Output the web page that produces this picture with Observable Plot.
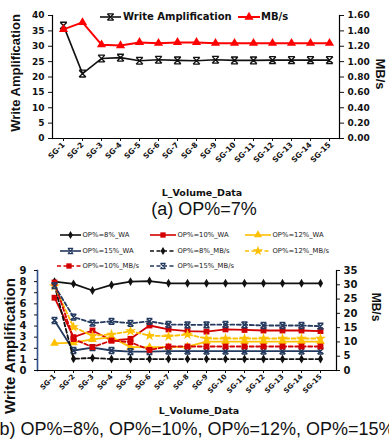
<!DOCTYPE html>
<html><head><meta charset="utf-8">
<script src="https://cdn.jsdelivr.net/npm/d3@7"></script>
<script src="https://cdn.jsdelivr.net/npm/@observablehq/plot@0.6"></script>
<style>
html,body{margin:0;padding:0;background:#fff;}
body{width:389px;height:441px;overflow:hidden;position:relative;font-family:"DejaVu Sans",sans-serif;}
.abs{position:absolute;white-space:nowrap;line-height:1;}
.c{transform:translate(-50%,-50%);}
.rotL{transform:translate(-50%,-50%) rotate(-90deg);}
.rotR{transform:translate(-50%,-50%) rotate(90deg);}
.ttl{font-family:"Liberation Sans",Arial,sans-serif;font-weight:bold;color:#111;}
.xl{font-family:"DejaVu Sans",sans-serif;font-weight:bold;font-size:9.5px;color:#111;}
.cap{font-family:"Liberation Sans",Arial,sans-serif;font-size:18px;color:#111;}
.leg{display:flex;align-items:center;font-size:6.8px;color:#222;}
.legT{display:flex;align-items:center;font-size:10px;font-weight:bold;color:#111;}
svg.sw{display:block;overflow:visible;}
</style></head><body>
<div id="topChart" class="abs" style="left:0;top:0"></div>
<div id="botChart" class="abs" style="left:0;top:255px"></div>
<div id="overlay"></div>
<script>
// ---------- data ----------
const categories = ["SG-1","SG-2","SG-3","SG-4","SG-5","SG-6","SG-7","SG-8","SG-9","SG-10","SG-11","SG-12","SG-13","SG-14","SG-15"];
// (a) OP%=7%
const waOP7 = [36.7, 21.1, 26.0, 26.3, 25.3, 25.6, 25.4, 25.3, 25.6, 25.4, 25.4, 25.5, 25.5, 25.5, 25.5];
const mbOP7 = [1.42, 1.51, 1.22, 1.21, 1.25, 1.24, 1.25, 1.25, 1.24, 1.24, 1.24, 1.24, 1.24, 1.24, 1.24];
const leftTicksA = [0, 5, 10, 15, 20, 25, 30, 35, 40];
const rightTicksA = [0, 0.2, 0.4, 0.6, 0.8, 1.0, 1.2, 1.4, 1.6];
// (b) write amplification (left axis)
const waOP8  = [8.0, 7.8, 7.2, 7.7, 8.0, 8.05, 7.85, 7.85, 7.85, 7.85, 7.85, 7.85, 7.85, 7.85, 7.85];
const waOP10 = [6.55, 3.0, 3.6, 2.7, 2.85, 4.05, 3.7, 3.55, 3.5, 3.7, 3.65, 3.6, 3.6, 3.6, 3.55];
const waOP12 = [2.45, 2.5, 2.8, 3.0, 2.1, 2.1, 2.1, 2.15, 2.6, 2.6, 2.6, 2.6, 2.6, 2.6, 2.6];
const waOP15 = [4.5, 1.8, 2.05, 1.8, 1.7, 1.7, 1.75, 1.75, 1.75, 1.75, 1.75, 1.75, 1.75, 1.75, 1.75];
// (b) MB/s (right axis)
const mbOP8  = [30.0, 4.1, 4.4, 4.0, 4.0, 4.0, 4.0, 4.0, 4.0, 4.0, 4.0, 4.0, 4.0, 4.0, 4.0];
const mbOP10 = [30.8, 11.0, 8.2, 10.5, 9.9, 7.2, 8.4, 8.4, 8.4, 8.4, 8.4, 8.4, 8.4, 8.4, 8.4];
const mbOP12 = [29.5, 15.2, 12.2, 12.6, 13.8, 12.2, 12.0, 12.6, 11.2, 11.2, 11.2, 11.2, 11.2, 11.2, 11.2];
const mbOP15 = [29.7, 18.7, 16.6, 17.2, 16.5, 17.2, 16.1, 16.0, 16.0, 16.1, 16.0, 15.75, 15.75, 15.75, 15.5];
const leftTicksB = [0, 1, 2, 3, 4, 5, 6, 7, 8, 9];
const rightTicksB = [0, 5, 10, 15, 20, 25, 30, 35];

// ---------- styles ----------
const RED_A = "#ff0000", RED = "#d40000", GOLD = "#ffc000", NAVY = "#243a5e", LEFTAX = "#2e4f8a";
const hourglass = {
  draw(ctx, size) {
    const s = Math.sqrt(size / Math.PI);
    ctx.moveTo(-s, -s); ctx.lineTo(s, s);
    ctx.moveTo(s, -s); ctx.lineTo(-s, s);
    ctx.moveTo(-s, -s); ctx.lineTo(s, -s);
    ctx.moveTo(-s, s); ctx.lineTo(s, s);
  }
};
const tickFont = {fontFamily: "'DejaVu Sans', sans-serif", fontWeight: "bold", color: "#111", background: "white", overflow: "visible"};

// ---------- chart (a) ----------
const yA2 = d3.scaleLinear([0, 1.6], [0, 40]);
const rowsA = categories.map((c, i) => ({c, wa: waOP7[i], mb: mbOP7[i]}));
const plotA = Plot.plot({
  width: 389, height: 200, marginLeft: 52, marginRight: 50, marginTop: 15, marginBottom: 62,
  style: {...tickFont, fontSize: "9px"},
  x: {type: "point", domain: categories, padding: 0.5, label: null},
  y: {domain: [0, 40], label: null},
  marks: [
    Plot.frame({anchor: "left", stroke: "#000", strokeWidth: 1.2}),
    Plot.frame({anchor: "right", stroke: "#000", strokeWidth: 1.2}),
    Plot.frame({anchor: "bottom", stroke: "#000", strokeWidth: 1.2}),
    Plot.axisY(leftTicksA, {anchor: "left", tickSize: 4, tickPadding: 4, label: null, fontSize: 9}),
    Plot.axisY(rightTicksA, {anchor: "right", y: d => yA2(d), tickFormat: d => d.toFixed(2), tickSize: 4, tickPadding: 4, label: null, fontSize: 9}),
    Plot.axisX({tickRotate: -45, tickSize: 3, tickPadding: 2, label: null, fontSize: 7.5}),
    Plot.line(rowsA, {x: "c", y: "wa", stroke: "#111", strokeWidth: 1.6}),
    Plot.dot(rowsA, {x: "c", y: "wa", symbol: hourglass, r: 3.4, stroke: "#111", fill: "none", strokeWidth: 1.3}),
    Plot.line(rowsA, {x: "c", y: d => yA2(d.mb), stroke: RED_A, strokeWidth: 2}),
    Plot.dot(rowsA, {x: "c", y: d => yA2(d.mb), symbol: "triangle", r: 3.4, fill: RED_A, stroke: "none"})
  ]
});
document.getElementById("topChart").appendChild(plotA);

// ---------- chart (b) ----------
const yB2 = d3.scaleLinear([0, 35], [0, 9]);
const rowsB = categories.map((c, i) => ({c, w8: waOP8[i], w10: waOP10[i], w12: waOP12[i], w15: waOP15[i],
  m8: mbOP8[i], m10: mbOP10[i], m12: mbOP12[i], m15: mbOP15[i]}));
const DASH = "4,2.5";
const series = [
  {key: "w8",  right: false, color: "#111", symbol: "diamond", r: 2.7, stroke: false, dash: null},
  {key: "w10", right: false, color: RED,   symbol: "square",  r: 3.3, stroke: false, dash: null},
  {key: "w12", right: false, color: GOLD,  symbol: "triangle",r: 3.2, stroke: false, dash: null},
  {key: "w15", right: false, color: NAVY,  symbol: hourglass, r: 2.9, stroke: true,  dash: null},
  {key: "m8",  right: true,  color: "#111", symbol: "diamond", r: 2.7, stroke: false, dash: DASH},
  {key: "m12", right: true,  color: GOLD,  symbol: "star",    r: 3.4, stroke: false, dash: DASH},
  {key: "m10", right: true,  color: RED,   symbol: "square",  r: 3.3, stroke: false, dash: DASH},
  {key: "m15", right: true,  color: NAVY,  symbol: hourglass, r: 2.9, stroke: true,  dash: DASH}
];
const seriesMarks = series.flatMap(s => {
  const yfn = s.right ? (d => yB2(d[s.key])) : (d => d[s.key]);
  return [
    Plot.line(rowsB, {x: "c", y: yfn, stroke: s.color, strokeWidth: 1.8, strokeDasharray: s.dash}),
    s.stroke
      ? Plot.dot(rowsB, {x: "c", y: yfn, symbol: s.symbol, r: s.r, stroke: s.color, fill: "#7f93b0", strokeWidth: 1.5})
      : Plot.dot(rowsB, {x: "c", y: yfn, symbol: s.symbol, r: s.r, fill: s.color, stroke: "none"})
  ];
});
const plotB = Plot.plot({
  width: 389, height: 165, marginLeft: 37, marginRight: 53, marginTop: 15, marginBottom: 50,
  style: {...tickFont, fontSize: "9.5px"},
  x: {type: "point", domain: categories, padding: 0.5, label: null},
  y: {domain: [0, 9], label: null},
  marks: [
    Plot.frame({anchor: "left", stroke: LEFTAX, strokeWidth: 1.6}),
    Plot.frame({anchor: "right", stroke: "#000", strokeWidth: 1.2}),
    Plot.frame({anchor: "bottom", stroke: "#000", strokeWidth: 1.2}),
    Plot.axisY(leftTicksB, {anchor: "left", tickSize: 3, tickPadding: 8, label: null, fontSize: 10}),
    Plot.axisY(rightTicksB, {anchor: "right", y: d => yB2(d), tickSize: 3, tickPadding: 4, label: null, fontSize: 10}),
    Plot.axisX({tickRotate: -45, tickSize: 3, tickPadding: 2, label: null, fontSize: 7}),
    ...seriesMarks
  ]
});
document.getElementById("botChart").appendChild(plotB);

// ---------- overlay texts & legends ----------
const ov = document.getElementById("overlay");
function add(html, cls, style) {
  const d = document.createElement("div");
  d.className = "abs " + cls;
  d.setAttribute("style", style);
  d.innerHTML = html;
  ov.appendChild(d);
  return d;
}
function swatch(w, color, dash, symbol, r, strokeW) {
  const h = 10;
  const sym = d3.symbol(symbol, r * r * Math.PI)();
  return `<svg class="sw" width="${w}" height="${h}"><line x1="0" x2="${w}" y1="${h/2}" y2="${h/2}" stroke="${color}" stroke-width="${strokeW}" ${dash ? `stroke-dasharray="${dash}"` : ""}/><path transform="translate(${w/2},${h/2})" d="${sym}" fill="${color}"/></svg>`;
}
function hourSwatch(w, color, dash, s, strokeW, fill) {
  const p = `M${-s},${-s}L${s},${s}M${s},${-s}L${-s},${s}M${-s},${-s}L${s},${-s}M${-s},${s}L${s},${s}`;
  return `<svg class="sw" width="${w}" height="10"><line x1="0" x2="${w}" y1="5" y2="5" stroke="${color}" stroke-width="${strokeW}" ${dash ? `stroke-dasharray="${dash}"` : ""}/><path transform="translate(${w/2},5)" d="${p}" fill="${fill}" stroke="${color}" stroke-width="1.3"/></svg>`;
}
// chart (a) texts
add("Write Amplification", "ttl rotL", "left:15px;top:73px;font-size:13px;");
add("MB/s", "ttl rotR", "left:380px;top:74px;font-size:13px;");
add("L_Volume_Data", "xl c", "left:202px;top:193px;");
add("(a) OP%=7%", "cap c", "left:204px;top:209px;");
add(hourSwatch(21, "#111", null, 3.2, 1.6, "none") + `<span style="margin-left:2px">Write Amplification</span>`, "legT", "left:100px;top:12px;");
add(swatch(22, RED_A, null, d3.symbolTriangle, 3.4, 2) + `<span style="margin-left:1px">MB/s</span>`, "legT", "left:238px;top:12px;");

// chart (b) texts
add("Write Amplification", "ttl rotL", "left:9px;top:346px;font-size:15px;");
add("MB/s", "ttl rotR", "left:376px;top:307px;font-size:12px;");
add("L_Volume_Data", "xl c", "left:199px;top:411px;");
add("(b) OP%=8%, OP%=10%, OP%=12%, OP%=15%", "cap c", "left:194px;top:429px;");

function legItem(label, color, dash, symbol, r, isHour, x, y, w) {
  const sw = isHour ? hourSwatch(w, color, dash, 2.6, 1.6, "#7f93b0") : swatch(w, color, dash, symbol, r, 1.6);
  add(sw + `<span style="margin-left:1.5px">${label}</span>`, "leg", `left:${x}px;top:${y - 5}px;`);
}
legItem("OP%=8%_WA",    "#111", null, d3.symbolDiamond, 2.5, false, 60, 235, 21);
legItem("OP%=10%_WA",   RED,    null, d3.symbolSquare, 3.0, false, 150, 235, 26);
legItem("OP%=12%_WA",   GOLD,   null, d3.symbolTriangle, 3.0, false, 245, 235, 26);
legItem("OP%=15%_WA",   NAVY,   null, null, 0, true, 60, 251, 21);
legItem("OP%=8%_MB/s",  "#111", DASH, d3.symbolDiamond, 2.5, false, 150, 251, 26);
legItem("OP%=12%_MB/s", GOLD,   DASH, d3.symbolStar, 3.2, false, 245, 251, 26);
legItem("OP%=10%_MB/s", RED,    DASH, d3.symbolSquare, 3.0, false, 57, 266, 24);
legItem("OP%=15%_MB/s", NAVY,   DASH, null, 0, true, 150, 266, 26);
</script>
</body></html>
